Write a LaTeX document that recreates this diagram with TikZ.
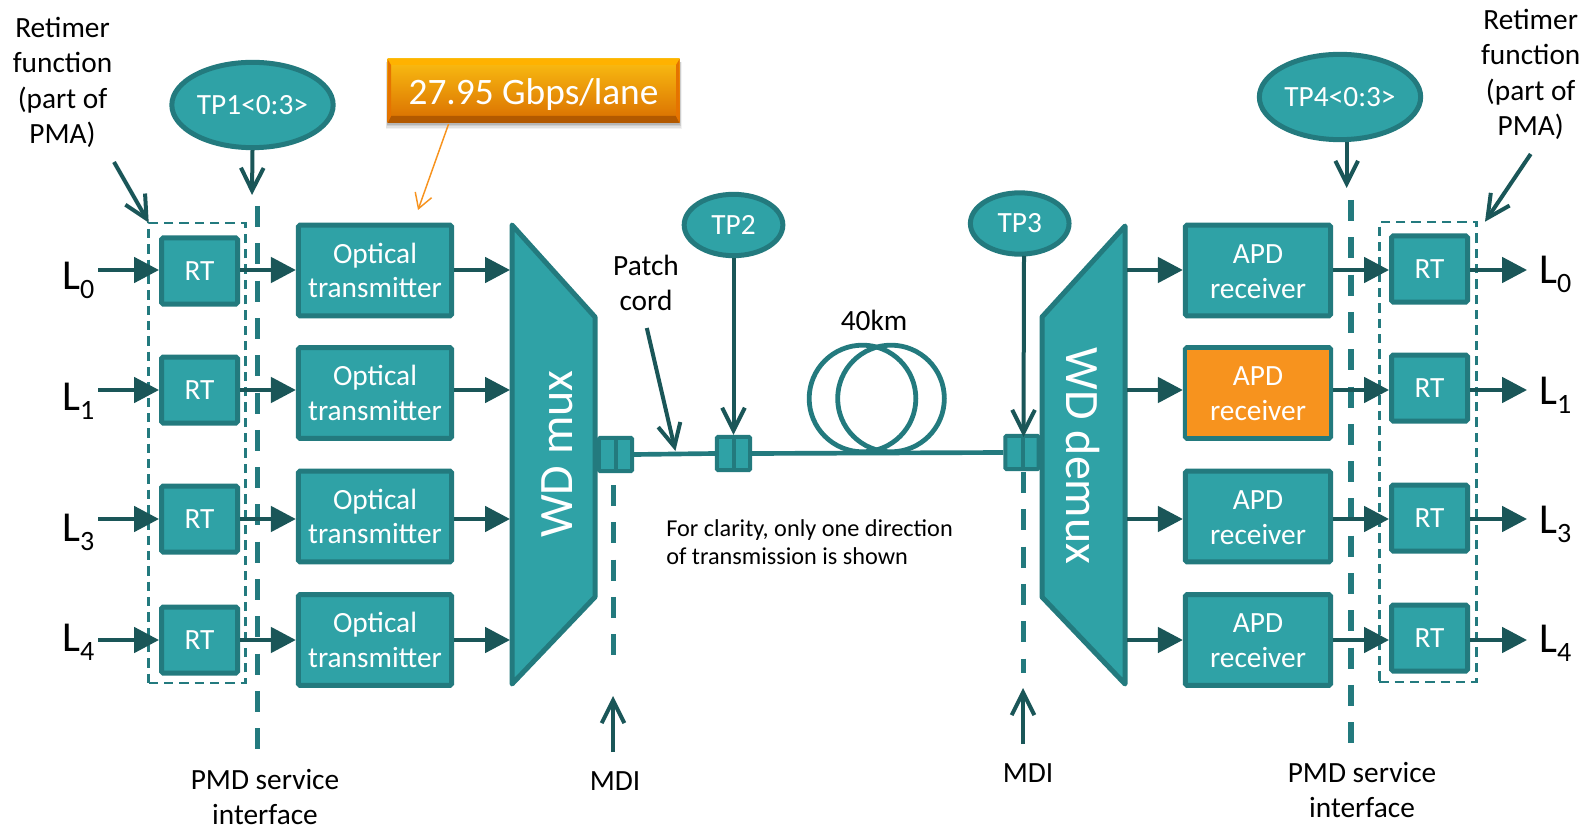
\documentclass[tikz,border=0pt]{standalone}
\usepackage{fontspec}
\setmainfont{Carlito}
\usetikzlibrary{arrows.meta,shapes.geometric}
\definecolor{tealfill}{HTML}{2FA2A6}
\definecolor{tealedge}{HTML}{237A7E}
\definecolor{tealdark}{HTML}{1A5658}
\definecolor{orangefill}{HTML}{F7931E}
\definecolor{orangeline}{HTML}{F7931E}
\newcommand{\fs}[2]{\fontsize{#1}{#2}\selectfont}
\newcommand{\Lsub}[1]{\fs{32}{32}L\raisebox{-7pt}{\fs{21}{21}#1}}
\newcommand{\RTtext}{\raisebox{-1pt}{RT}}
\tikzset{
 x=.75pt,y=-.75pt,
 blockbase/.style={draw=tealedge,fill=tealfill,line width=3.75pt,rounded corners=1.2pt,text=white,align=center,font=\fs{22}{26},inner sep=0pt},
 rtbox/.style={blockbase,minimum width=57pt,minimum height=49.5pt},
 bigbox/.style={blockbase,minimum width=115pt,minimum height=68pt},
 apdbox/.style={blockbase,minimum width=109pt,minimum height=68pt},
 tp/.style={ellipse,draw=tealedge,fill=tealfill,line width=3.75pt,text=white,font=\fs{22}{25},inner sep=0pt},
 wedge/.style={draw=tealedge,fill=tealfill,line width=3.75pt,line join=round},
 conn/.style={draw=tealedge,fill=tealfill,line width=3pt,rounded corners=1pt,minimum width=25pt,minimum height=25pt,inner sep=0pt},
 flow/.style={draw=tealdark,line width=3pt,-{Triangle[length=18.75pt,width=19pt]}},
 pointer/.style={draw=tealdark,line width=3pt,-{Straight Barb[length=17pt,width=17pt,line width=3pt]}},
 pmdline/.style={draw=tealedge,line width=4pt,dash pattern=on 15.75pt off 12.225pt},
 retimerbox/.style={draw=tealedge,line width=1.9pt,dash pattern=on 7pt off 4.5pt},
 lbl/.style={text=black,align=center,font=\fs{22}{26.5},inner sep=0pt},
 fibre/.style={draw=tealedge,line width=3.5pt},
 loopc/.style={circle,draw=tealedge,line width=3.6pt,minimum size=80pt,inner sep=0pt},
 blocktext/.style={text=white,font=\fs{36}{36},inner sep=0pt},
}
\begin{document}
\begin{tikzpicture}
\useasboundingbox (0,0) rectangle (1587,827);
% rows
\coordinate (r0) at (0,270); \coordinate (r1) at (0,390); \coordinate (r2) at (0,519); \coordinate (r3) at (0,640);
% wedges
\draw[wedge] (512,225) -- (595,317) -- (595,597) -- (512,684) -- cycle;
\draw[wedge] (1125,226) -- (1042,317) -- (1042,597) -- (1125,684) -- cycle;
\node[blocktext] (mux) at (557,454) {\rotatebox{90}{WD mux}};
\node[blocktext] (demux) at (1083,456) {\rotatebox{-90}{WD demux}};
\coordinate (muxW) at (510,0); \coordinate (demuxE) at (1127,0);
% left retimers & tx
\foreach \n/\y in {0/271,1/390,2/519,3/640}{\node[rtbox] (rt\n) at (199.5,\y) {\RTtext};}
\foreach \n/\y in {0/270.5,1/393,2/516.5,3/640}{\node[bigbox] (tx\n) at (375,\y) {Optical\\transmitter};}
\foreach \n/\y in {0/270.5,1/393,2/516.5,3/640}{\node[apdbox] (apd\n) at (1258,\y) {};}
\fill[orangefill] (1187,350) rectangle (1329,436);
\foreach \n/\y in {0/271.5,1/394,2/517.5,3/641}{\node[text=white,align=center,font=\fs{22}{26},inner sep=0pt] (apdt\n) at (1258,\y) {APD\\receiver};}
\foreach \n/\y in {0/269,1/388,2/518,3/638}{\node[rtbox] (rr\n) at (1429.5,\y) {\RTtext};}
% retimer dashed
\node[retimerbox,minimum width=72.5pt,minimum height=345pt,inner sep=0pt] (rtl) at (197,453) {};
\node[retimerbox,minimum width=73pt,minimum height=345pt,inner sep=0pt] (rtr) at (1428,452) {};
% PMD lines
\coordinate (pa) at (257.5,206); \coordinate (pb) at (257.5,749);
\coordinate (qa) at (1351,200); \coordinate (qb) at (1351,744);
\draw[pmdline] (pa) -- (pb);
\draw[pmdline] (qa) -- (qb);
% flow arrows
\foreach \n in {0,1,2,3}{
 \coordinate (s\n) at (98,0);
 \coordinate (e\n) at (1527,0);
 \draw[flow] (r\n -| s\n) -- (r\n -| rt\n.west);
 \draw[flow] (r\n -| rt\n.east) -- (r\n -| tx\n.west);
 \draw[flow] (r\n -| tx\n.east) -- (r\n -| muxW);
 \draw[flow] (r\n -| demuxE) -- (r\n -| apd\n.west);
 \draw[flow] (r\n -| apd\n.east) -- (r\n -| rr\n.west);
 \draw[flow] (r\n -| rr\n.east) -- (r\n -| e\n);
}
% L labels
\node[anchor=base west,inner sep=0pt] (l0) at (62,289) {\Lsub{0}};
\node[anchor=base west,inner sep=0pt] (l1) at (62,410) {\Lsub{1}};
\node[anchor=base west,inner sep=0pt] (l2) at (62,541) {\Lsub{3}};
\node[anchor=base west,inner sep=0pt] (l3) at (62,651) {\Lsub{4}};
\node[anchor=base west,inner sep=0pt] (m0) at (1539,283) {\Lsub{0}};
\node[anchor=base west,inner sep=0pt] (m1) at (1539,404) {\Lsub{1}};
\node[anchor=base west,inner sep=0pt] (m2) at (1539,533) {\Lsub{3}};
\node[anchor=base west,inner sep=0pt] (m3) at (1539,652) {\Lsub{4}};
% TP ellipses
\node[tp,minimum width=121pt,minimum height=64pt] (tp1) at (252.5,105) {\raisebox{-1pt}{TP1<0:3>}};
\node[tp,minimum width=121pt,minimum height=64pt] (tp4) at (1340,97) {\raisebox{-1pt}{TP4<0:3>}};
\node[tp,minimum width=74pt,minimum height=46pt] (tp2) at (733.5,225) {TP2};
\node[tp,minimum width=74pt,minimum height=46pt] (tp3) at (1019.7,223.5) {\raisebox{-1pt}{TP3}};
% connectors & fibre
\node[conn] (c1) at (615.5,454.5) {};
\node[conn] (c2) at (733.5,453.5) {};
\node[conn] (c3) at (1022,452.5) {};
\draw[tealedge,line width=3pt] (c1.north) -- (c1.south);
\draw[tealedge,line width=3pt] (c2.north) -- (c2.south);
\draw[tealedge,line width=3pt] ([xshift=1pt]c3.north) -- ([xshift=1pt]c3.south);
\draw[fibre] (c1.east) -- (c2.west);
\draw[fibre] (c2.east) -- (c3.west);
\node[loopc] (lp1) at (862.5,398.5) {};
\node[loopc] (lp2) at (891,398.5) {};
% pointers
\coordinate (ptA) at (252,195);
\coordinate (ptB) at (1346.7,188);
\draw[pointer] (tp1.south) -- (ptA);
\draw[pointer] (tp4.south -| ptB) -- (ptB);
\draw[pointer] (tp2.south) -- (c2.north);
\coordinate (tp3f) at (1024,256);
\coordinate (tp3t) at (1023.5,437);
\draw[pointer] (tp3f) -- (tp3t);
\coordinate (pcA) at (646.8,328); \coordinate (pcB) at (675.4,451);
\draw[pointer] (pcA) -- (pcB);
\coordinate (retA) at (114,162); \coordinate (retB) at (148.7,222.7);
\draw[pointer] (retA) -- (retB);
\coordinate (retC) at (1530.7,154); \coordinate (retD) at (1485,221.7);
\draw[pointer] (retC) -- (retD);
% MDI
\coordinate (ma) at (613.5,485); \coordinate (mb) at (613.5,668);
\coordinate (mc) at (1023.5,472); \coordinate (md) at (1023.5,673);
\draw[pmdline] (ma) -- (mb);
\draw[pmdline] (mc) -- (md);
\coordinate (mda) at (613,752); \coordinate (mdb) at (613,696);
\coordinate (mdc) at (1023,744); \coordinate (mdd) at (1023,688);
\draw[pointer] (mda) -- (mdb);
\draw[pointer] (mdc) -- (mdd);
% orange callout
\foreach \d/\o in {4/.05,3/.07,2/.09,1/.11}{\fill[black,opacity=\o] (387.5-\d*.5,62) rectangle (679.5+\d*.5,123+\d*1.6);}
\shade[top color=orangefill!60!yellow,middle color=orange!95!red,bottom color=orange!85!black] (387.5,59) rectangle (679.5,123);
\fill[orange!60!yellow] (387.5,59) -- (679.5,59) -- (676,65) -- (391,65) -- cycle;
\fill[orange!70!black] (387.5,123) -- (679.5,123) -- (676,116) -- (391,116) -- cycle;
\fill[orange!90!black] (387.5,59) -- (391,65) -- (391,116) -- (387.5,123) -- cycle;
\fill[orange!90!black] (679.5,59) -- (676,65) -- (676,116) -- (679.5,123) -- cycle;
\node[text=white,font=\fs{28}{28},inner sep=0pt] (rate) at (533.5,95) {27.95 Gbps/lane};
\coordinate (rateA) at (448.6,124); \coordinate (rateB) at (418,210);
\draw[orangeline,line width=1.1pt,-{Straight Barb[length=11pt,width=13pt,line width=1.1pt]}] (rateA) -- (rateB);
% texts
\node[lbl] (t1) at (62.5,82.5) {Retimer\\function\\(part of\\PMA)};
\node[lbl] (t2) at (1530.7,74.5) {Retimer\\function\\(part of\\PMA)};
\node[lbl] (t3) at (646,283) {Patch\\cord};
\node[lbl] (t4) at (874,320) {40km};
\node[lbl,anchor=west,align=left,font=\fs{18.2}{21}] (t5) at (666,542.5) {For clarity, only one direction\\of transmission is shown};
\node[lbl] (t6) at (265,797) {PMD service\\interface};
\node[lbl] (t7) at (1362,790) {PMD service\\interface};
\node[lbl] (t8) at (615,781) {MDI};
\node[lbl] (t9) at (1028,773) {MDI};
\end{tikzpicture}
\end{document}
